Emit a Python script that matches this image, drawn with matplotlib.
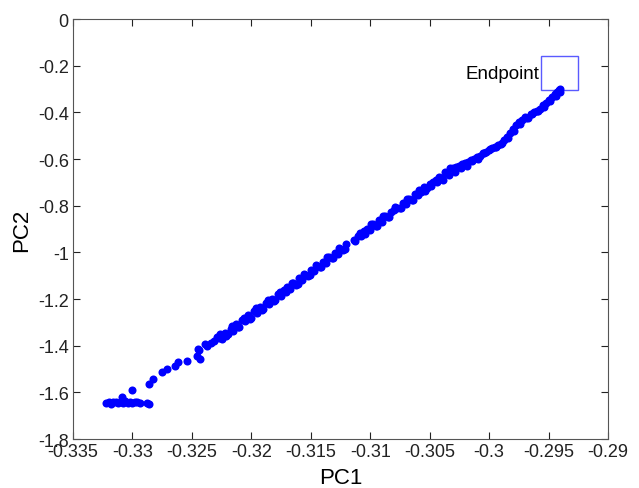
import matplotlib
matplotlib.use("Agg")
import matplotlib.pyplot as plt
from matplotlib.patches import Rectangle

# lower cluster + start of the trajectory
pc1_start = [-0.3322, -0.3320, -0.3318, -0.3316, -0.3314, -0.3312, -0.3310, -0.3308,
             -0.3306, -0.3304, -0.3302, -0.3300, -0.3298, -0.3296, -0.3294, -0.3309,
             -0.3300, -0.3286, -0.3288, -0.3286, -0.3283, -0.3275, -0.3271, -0.3264,
             -0.3262, -0.3254, -0.3246, -0.3245, -0.3243, -0.3237, -0.3231]
pc2_start = [-1.645, -1.640, -1.648, -1.643, -1.640, -1.646, -1.642, -1.645,
             -1.638, -1.644, -1.641, -1.646, -1.643, -1.640, -1.645, -1.620,
             -1.590, -1.650, -1.645, -1.564, -1.543, -1.513, -1.500, -1.487,
             -1.470, -1.466, -1.444, -1.414, -1.457, -1.401, -1.380]

# main trajectory toward the endpoint
pc1_main = [-0.32275, -0.32250, -0.32225, -0.32200, -0.32175, -0.32150, -0.32125, -0.32100,
            -0.32075, -0.32050, -0.32025, -0.32000, -0.31975, -0.31950, -0.31925, -0.31900,
            -0.31875, -0.31850, -0.31825, -0.31800, -0.31775, -0.31750, -0.31725, -0.31700,
            -0.31675, -0.31650, -0.31625, -0.31600, -0.31575, -0.31550, -0.31525, -0.31500,
            -0.31475, -0.31450, -0.31425, -0.31400, -0.31375, -0.31350, -0.31325, -0.31300,
            -0.31275, -0.31250, -0.31225, -0.31200, -0.31140, -0.31125, -0.31100, -0.31075,
            -0.31050, -0.31025, -0.31000, -0.30975, -0.30950, -0.30925, -0.30900, -0.30875,
            -0.30850, -0.30825, -0.30800, -0.30775, -0.30750, -0.30725, -0.30700, -0.30675,
            -0.30650, -0.30625, -0.30600, -0.30575, -0.30550, -0.30525, -0.30500, -0.30475,
            -0.30450, -0.30425, -0.30400, -0.30375, -0.30350, -0.30325, -0.30300, -0.30275,
            -0.30250, -0.30225, -0.30200, -0.30175, -0.30150, -0.30125, -0.30100, -0.30075,
            -0.30050, -0.30025, -0.30000, -0.29975, -0.29950, -0.29925, -0.29900, -0.29875,
            -0.29850, -0.29825, -0.29800, -0.29775, -0.29750, -0.29725, -0.29700, -0.29675,
            -0.29650, -0.29625, -0.29600, -0.29575, -0.29550, -0.29525, -0.29500, -0.29475,
            -0.29450, -0.29425, -0.29410, -0.29400]
pc2_main = [-1.365, -1.372, -1.345, -1.350, -1.328, -1.335, -1.305, -1.318,
            -1.290, -1.296, -1.270, -1.280, -1.252, -1.258, -1.235, -1.244,
            -1.215, -1.222, -1.198, -1.205, -1.180, -1.188, -1.160, -1.150,
            -1.155, -1.130, -1.138, -1.112, -1.118, -1.095, -1.100, -1.076,
            -1.082, -1.058, -1.062, -1.040, -1.046, -1.020, -1.025, -1.002,
            -1.005, -0.985, -0.990, -0.965, -0.945, -0.952, -0.930, -0.928,
            -0.910, -0.900, -0.905, -0.880, -0.885, -0.862, -0.868, -0.845,
            -0.850, -0.825, -0.818, -0.808, -0.810, -0.788, -0.792, -0.770,
            -0.775, -0.750, -0.755, -0.740, -0.722, -0.725, -0.705, -0.700,
            -0.690, -0.675, -0.680, -0.655, -0.662, -0.640, -0.638, -0.635,
            -0.628, -0.622, -0.615, -0.612, -0.605, -0.598, -0.590, -0.585,
            -0.575, -0.570, -0.560, -0.552, -0.548, -0.540, -0.535, -0.520,
            -0.505, -0.490, -0.470, -0.452, -0.440, -0.432, -0.420, -0.425,
            -0.405, -0.400, -0.392, -0.386, -0.370, -0.360, -0.345, -0.335,
            -0.320, -0.312, -0.305, -0.300]

# second pass over the same path (makes the band thicker)
pc1_extra = [-0.3244, -0.3239, -0.3234, -0.3229,
             -0.3226, -0.3221, -0.3216, -0.3211, -0.3206, -0.3201, -0.3196, -0.3191,
             -0.3186, -0.3181, -0.3176, -0.3171, -0.3166, -0.3161, -0.3156, -0.3151,
             -0.3146, -0.3141, -0.3136, -0.3131, -0.3126, -0.3121, -0.3109, -0.3104,
             -0.3099, -0.3094, -0.3089, -0.3084, -0.3079, -0.3074, -0.3069, -0.3064,
             -0.3059, -0.3054, -0.3049, -0.3044, -0.3039, -0.3034, -0.3029, -0.3024,
             -0.3019, -0.3014, -0.3009, -0.3004, -0.2999, -0.2994, -0.2989, -0.2984,
             -0.2979, -0.2974, -0.2969, -0.2964, -0.2959, -0.2954, -0.2949, -0.2944,
             -0.2940]
pc2_extra = [-1.418, -1.392, -1.388, -1.362,
             -1.352, -1.360, -1.315, -1.322, -1.280, -1.285, -1.240, -1.248,
             -1.205, -1.210, -1.168, -1.172, -1.130, -1.136, -1.092, -1.098,
             -1.055, -1.062, -1.020, -1.025, -0.982, -0.985, -0.918, -0.922,
             -0.880, -0.886, -0.845, -0.848, -0.806, -0.812, -0.770, -0.775,
             -0.732, -0.738, -0.716, -0.698, -0.690, -0.670, -0.655, -0.640,
             -0.628, -0.608, -0.598, -0.575, -0.555, -0.548, -0.530, -0.508,
             -0.480, -0.450, -0.425, -0.405, -0.392, -0.378, -0.352, -0.330,
             -0.312]

# endpoint box (data units)
BOX_X = [-0.2956, -0.2925]
BOX_Y = [-0.305, -0.160]

XTICKS = [-0.335, -0.33, -0.325, -0.32, -0.315, -0.31, -0.305, -0.3, -0.295, -0.29]
XTICK_LABELS = ["-0.335", "-0.33", "-0.325", "-0.32", "-0.315", "-0.31", "-0.305",
                "-0.3", "-0.295", "-0.29"]
YTICKS = [0, -0.2, -0.4, -0.6, -0.8, -1, -1.2, -1.4, -1.6, -1.8]
YTICK_LABELS = ["0", "-0.2", "-0.4", "-0.6", "-0.8", "-1", "-1.2", "-1.4", "-1.6", "-1.8"]

plt.rcParams.update({
    "font.family": ["Liberation Sans", "DejaVu Sans"],
    "axes.unicode_minus": False,
})

fig = plt.figure(figsize=(6.39, 4.89), dpi=100)
ax = fig.add_axes([0.1142, 0.1002, 0.8373, 0.8588])

ax.plot(pc1_start + pc1_main + pc1_extra, pc2_start + pc2_main + pc2_extra, "o",
        color="#0000ff", markersize=5.8, markeredgewidth=0, linestyle="none")

ax.add_patch(Rectangle((BOX_X[0], BOX_Y[0]), BOX_X[1] - BOX_X[0], BOX_Y[1] - BOX_Y[0],
                       fill=False, edgecolor="#5a5aff", linewidth=1.0))
ax.text(BOX_X[0] - 0.0002, (BOX_Y[0] + BOX_Y[1]) / 2, "Endpoint", ha="right",
        va="center", fontsize=13.5)

ax.set_xlim(-0.335, -0.29)
ax.set_ylim(-1.8, 0)
ax.set_xticks(XTICKS)
ax.set_xticklabels(XTICK_LABELS)
ax.set_yticks(YTICKS)
ax.set_yticklabels(YTICK_LABELS)
ax.tick_params(direction="in", length=5, width=0.8, top=True, right=True,
               labelsize=13, pad=3, colors="#222222")
for sp in ax.spines.values():
    sp.set_color("#555555")
    sp.set_linewidth(0.8)

ax.set_xlabel("PC1", fontsize=16, labelpad=5)
ax.set_ylabel("PC2", fontsize=16, labelpad=4)

fig.savefig("out.png", dpi=100)
